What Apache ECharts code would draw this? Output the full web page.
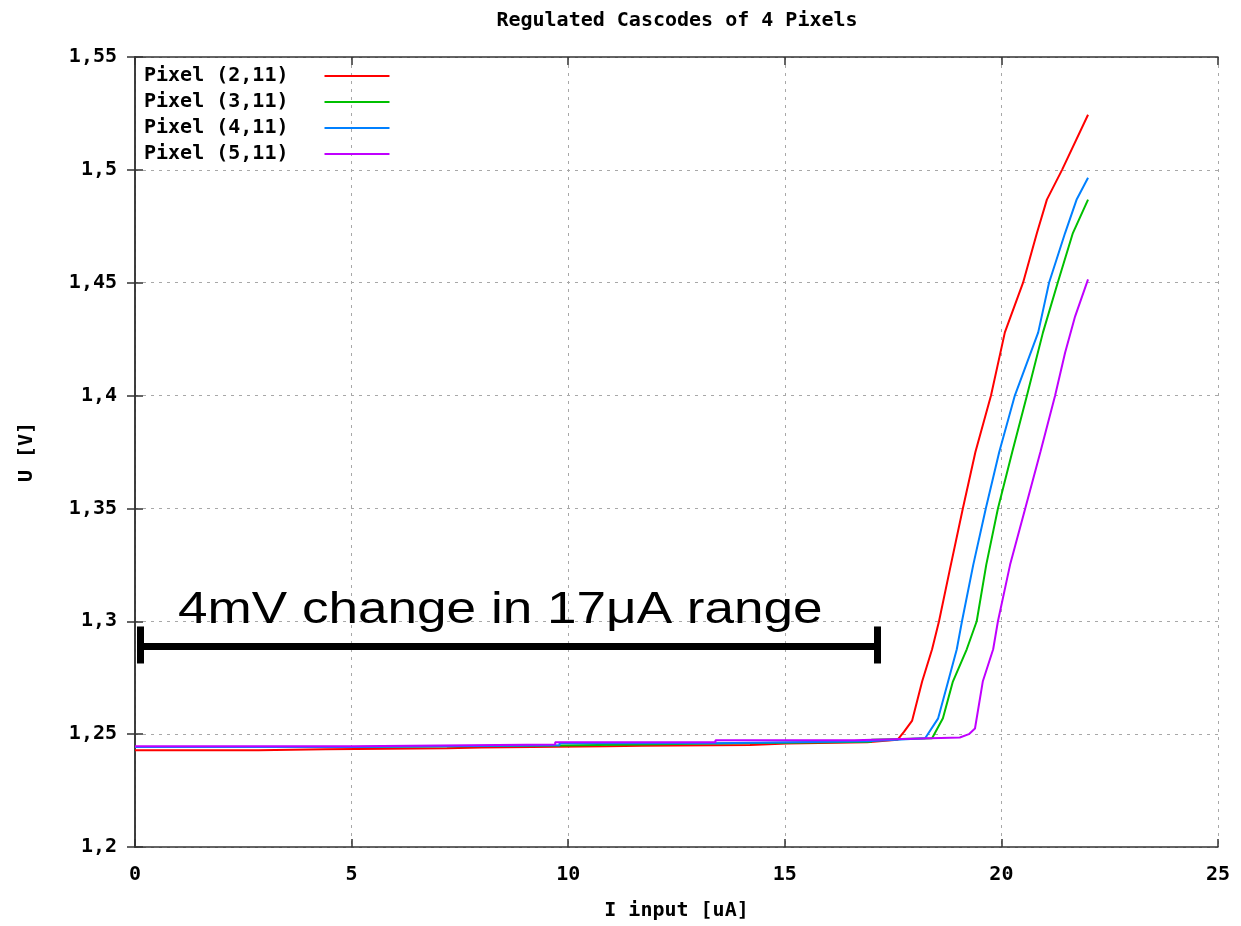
<!DOCTYPE html>
<html>
<head>
<meta charset="utf-8">
<script src="https://cdn.jsdelivr.net/npm/echarts@6/dist/echarts.min.js"></script>
<style>html,body{margin:0;padding:0;background:#fff}#c{width:1241px;height:926px}</style>
</head>
<body>
<div id="c"></div>
<script>
// ---- data ----
const titleText = 'Regulated Cascodes of 4 Pixels';
const seriesNames = ['Pixel (2,11)', 'Pixel (3,11)', 'Pixel (4,11)', 'Pixel (5,11)'];
const seriesColors = ['#ff0000', '#00c000', '#0080ff', '#c000ff'];
const xTicks = [0, 5, 10, 15, 20, 25];
const yTicks = [1.2, 1.25, 1.3, 1.35, 1.4, 1.45, 1.5, 1.55];

const red = [
  [0,1.2429],[2.85,1.2429],[2.85,1.2433],[4.4,1.2433],[4.4,1.2437],[7.2,1.2437],[7.2,1.2441],[8.0,1.2441],
  [8.0,1.2446],[10.9,1.2446],[10.9,1.2449],[11.7,1.2449],[11.7,1.2452],[14.2,1.2452],[14.2,1.2458],[15.05,1.2458],
  [15.05,1.2464],[16.9,1.2464],[16.9,1.2470],[17.6,1.2475],[17.75,1.251],[17.94,1.256],[18.17,1.2733],
  [18.4,1.2876],[18.56,1.3],[18.8,1.322],[19.11,1.35],[19.4,1.375],[19.76,1.4],[20.08,1.428],[20.5,1.45],
  [20.82,1.472],[21.05,1.4868],[21.4,1.5],[22.0,1.5244]
];
const green = [
  [0,1.2443],[5.0,1.2443],[5.0,1.2450],[9.8,1.2450],[9.8,1.2458],[13.4,1.2458],[13.4,1.2466],[17.0,1.2466],
  [17.0,1.2475],[18.4,1.2482],[18.65,1.257],[18.88,1.2733],[19.2,1.2876],[19.43,1.3],[19.65,1.325],
  [19.92,1.35],[20.25,1.375],[20.59,1.4],[20.96,1.428],[21.3,1.45],[21.65,1.472],[22.0,1.4868]
];
const blue = [
  [0,1.2443],[5.05,1.2443],[5.05,1.2451],[9.8,1.2451],[9.8,1.2460],[13.4,1.2460],[13.4,1.2468],[16.9,1.2468],
  [16.9,1.2475],[18.24,1.2482],[18.54,1.257],[18.77,1.2733],[18.97,1.2876],[19.09,1.3],[19.35,1.325],
  [19.64,1.35],[19.95,1.375],[20.31,1.4],[20.85,1.428],[21.1,1.45],[21.47,1.472],[21.74,1.487],[22.0,1.4965]
];
const purple = [
  [0,1.2446],[5.05,1.2446],[5.05,1.2454],[9.7,1.2454],[9.7,1.2464],[13.4,1.2464],[13.4,1.2473],[16.6,1.2473],
  [16.6,1.2479],[19.04,1.2485],[19.25,1.250],[19.39,1.2525],[19.57,1.2733],[19.81,1.2876],[19.92,1.3],
  [20.2,1.325],[20.55,1.35],[20.9,1.375],[21.24,1.4],[21.47,1.419],[21.7,1.435],[22.0,1.4515]
];
const seriesData = [red, green, blue, purple];

// annotation: bar spanning 0..17.2 uA
const annotText = '4mV change in 17\u03bcA range';
const barX = [0.07, 17.2];
const barY = 1.2888;
const capY = [1.2813, 1.2977];
const capX = [0.13, 17.14];

// ---- chart ----
const mono = '"DejaVu Sans Mono", "Liberation Mono", monospace';
const fmtY = v => Number(v.toFixed(2)).toString().replace('.', ',');
const gridLine = { show: true, lineStyle: { color: '#a8a8a8', type: [3, 5], width: 1 } };
const axisLine = { show: true, lineStyle: { color: '#333', width: 1.5 } };
const tick = { show: true, inside: true, length: 8, lineStyle: { color: '#333', width: 1.5 } };

const chart = echarts.init(document.getElementById('c'), null, { renderer: 'canvas' });

const series = seriesNames.map((n, i) => ({
  name: n, type: 'line', data: seriesData[i], showSymbol: false, symbol: 'none',
  lineStyle: { color: seriesColors[i], width: 2 }, itemStyle: { color: seriesColors[i] },
  animation: false, z: 3 + i
}));
series.push({
  name: 'annot', type: 'line', data: [], silent: true, animation: false, z: 10,
  markLine: {
    silent: true, symbol: 'none', animation: false,
    label: { show: false },
    lineStyle: { color: '#000', width: 7, type: 'solid' },
    data: [
      [{ coord: [barX[0], barY] }, { coord: [barX[1], barY] }],
      [{ coord: [capX[0], capY[0]] }, { coord: [capX[0], capY[1]] }],
      [{ coord: [capX[1], capY[0]] }, { coord: [capX[1], capY[1]] }]
    ]
  }
});

chart.setOption({
  backgroundColor: '#fff',
  animation: false,
  title: {
    text: titleText, left: 672, top: 6, textAlign: 'center',
    textStyle: { fontFamily: mono, fontWeight: 'bold', fontSize: 20, color: '#000' }
  },
  legend: {
    data: seriesNames, orient: 'vertical', left: 139, top: 61, align: 'right',
    icon: 'rect', itemWidth: 65, itemHeight: 2, itemGap: 6,
    textStyle: { fontFamily: mono, fontWeight: 'bold', fontSize: 20, color: '#000', lineHeight: 20, padding: [0, 31, 0, 0] }
  },
  grid: { left: 135, right: 23, top: 57, bottom: 77, containLabel: false },
  xAxis: [{
    type: 'value', min: 0, max: 25, interval: 5,
    name: 'I input [uA]', nameLocation: 'middle', nameGap: 54,
    nameTextStyle: { fontFamily: mono, fontWeight: 'bold', fontSize: 20, color: '#000' },
    axisLine: axisLine, axisTick: tick, splitLine: gridLine,
    axisLabel: { fontFamily: mono, fontWeight: 'bold', fontSize: 20, color: '#000', margin: 18 }
  }, {
    type: 'value', position: 'top', min: 0, max: 25, interval: 5,
    axisLine: axisLine, axisTick: tick, splitLine: { show: false }, axisLabel: { show: false }
  }],
  yAxis: [{
    type: 'value', min: 1.2, max: 1.55, interval: 0.05,
    name: 'U [V]', nameLocation: 'middle', nameGap: 98, nameRotate: 90,
    nameTextStyle: { fontFamily: mono, fontWeight: 'bold', fontSize: 20, color: '#000' },
    axisLine: axisLine, axisTick: tick, splitLine: gridLine,
    axisLabel: { fontFamily: mono, fontWeight: 'bold', fontSize: 20, color: '#000', margin: 18, formatter: fmtY }
  }, {
    type: 'value', position: 'right', min: 1.2, max: 1.55, interval: 0.05,
    axisLine: axisLine, axisTick: tick, splitLine: { show: false }, axisLabel: { show: false }
  }],
  series: series,
  graphic: [{
    type: 'text', x: 178, y: 588, scaleX: 1.18, z: 20,
    style: { text: annotText, font: '45px "Liberation Sans", Arial, sans-serif', fill: '#000' }
  }]
});
</script>
</body>
</html>
